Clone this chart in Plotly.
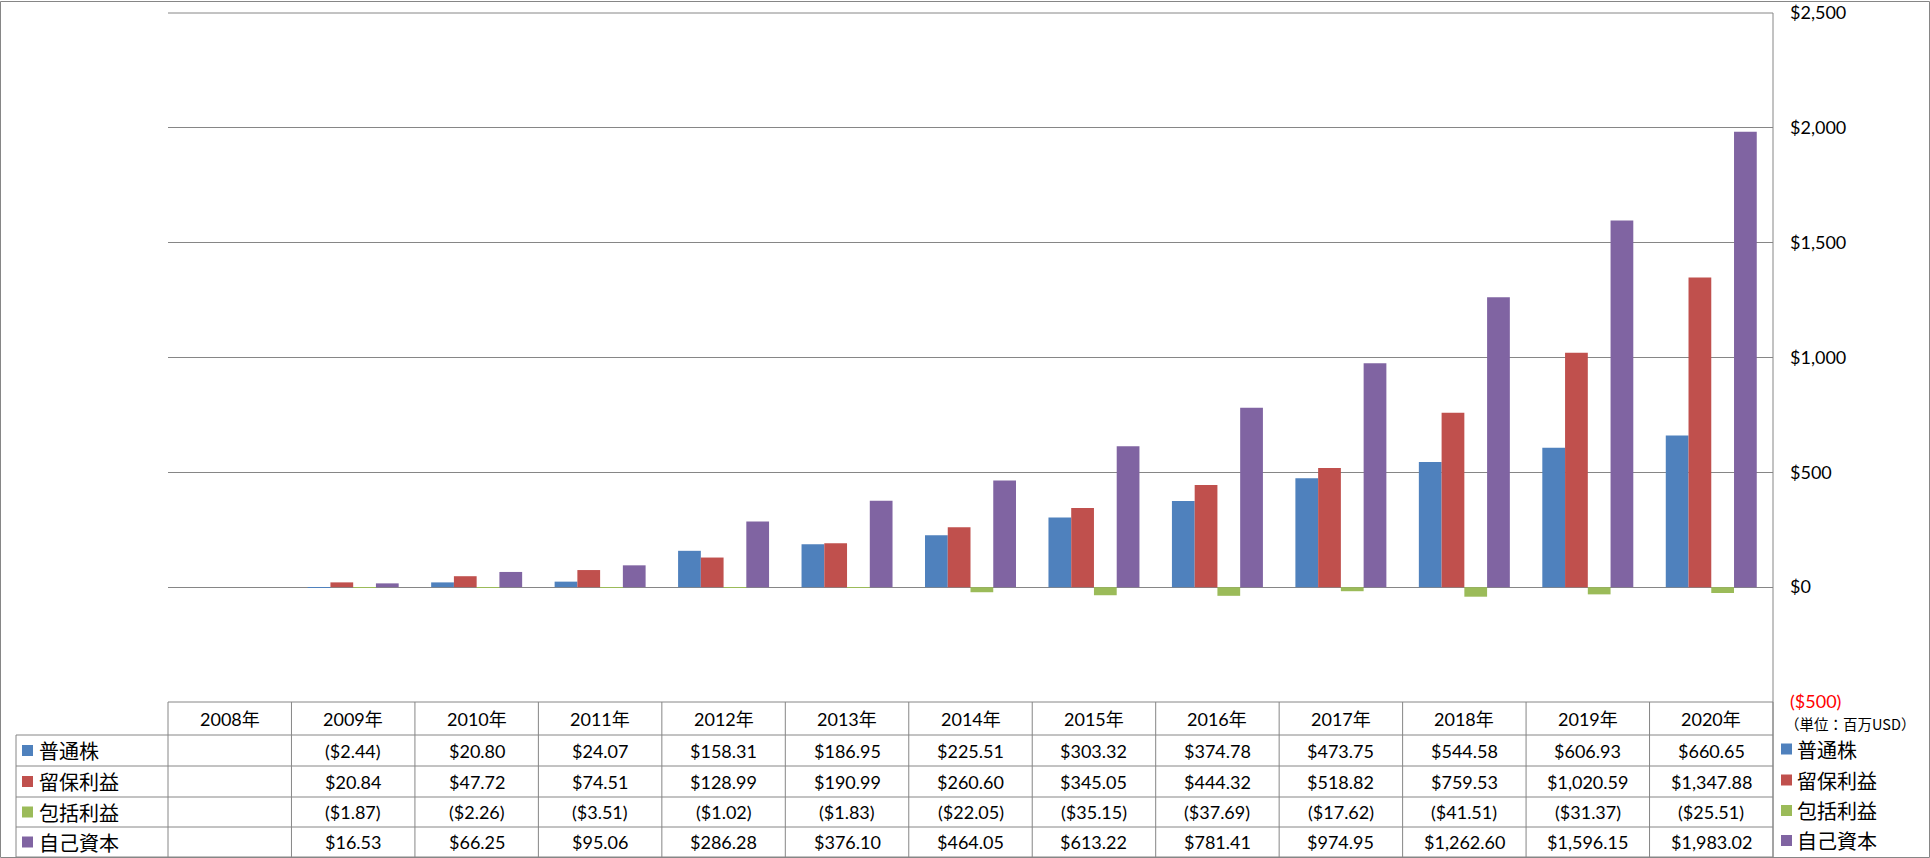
import plotly.graph_objects as go

# ---------------- data ----------------
categories = ["2008年", "2009年", "2010年", "2011年", "2012年", "2013年", "2014年",
              "2015年", "2016年", "2017年", "2018年", "2019年", "2020年"]
common_stock = [None, -2.44, 20.80, 24.07, 158.31, 186.95, 225.51, 303.32, 374.78,
                473.75, 544.58, 606.93, 660.65]
retained_earnings = [None, 20.84, 47.72, 74.51, 128.99, 190.99, 260.60, 345.05, 444.32,
                     518.82, 759.53, 1020.59, 1347.88]
comprehensive_income = [None, -1.87, -2.26, -3.51, -1.02, -1.83, -22.05, -35.15, -37.69,
                        -17.62, -41.51, -31.37, -25.51]
total_equity = [None, 16.53, 66.25, 95.06, 286.28, 376.10, 464.05, 613.22, 781.41,
                974.95, 1262.60, 1596.15, 1983.02]
series_names = ["普通株", "留保利益", "包括利益", "自己資本"]
series_colors = ["#4F81BD", "#C0504D", "#9BBB59", "#8064A2"]
tick_values = [-500, 0, 500, 1000, 1500, 2000, 2500]
tick_labels = ["<span style='color:#FF0000'>($500)</span>", "$0", "$500", "$1,000",
               "$1,500", "$2,000", "$2,500"]
unit_label = "（単位：百万USD）"

series_values = [common_stock, retained_earnings, comprehensive_income, total_equity]

# ---------------- geometry helpers (pixels -> paper) ----------------
W, H = 1930, 858
PL, PR, PT, PB = 168, 1773, 13, 702


def px(X):
    return (X - PL) / (PR - PL)


def py(Y):
    return (PB - Y) / (PB - PT)


GRID = "#868686"
LATIN = "Lato, 'Noto Sans CJK JP', sans-serif"
CJK = "'Noto Sans CJK JP', sans-serif"


def fmt(v):
    if v is None:
        return ""
    s = "${:,.2f}".format(abs(v))
    return "({})".format(s) if v < 0 else s


fig = go.Figure()
for name, vals, col in zip(series_names, series_values, series_colors):
    fig.add_trace(go.Bar(x=categories, y=vals, name=name, marker_color=col,
                         marker_line_width=0, showlegend=False, hoverinfo="skip"))

shapes = []
annotations = []

# outer border
shapes.append(dict(type="rect", xref="paper", yref="paper", x0=px(0.5), x1=px(1929.5),
                   y0=py(1.5), y1=py(857.5), line=dict(color=GRID, width=1)))
# top gridline (range edge) and right axis line
shapes.append(dict(type="line", xref="paper", yref="paper", x0=0, x1=1, y0=1, y1=1,
                   line=dict(color=GRID, width=1)))
shapes.append(dict(type="line", xref="paper", yref="paper", x0=1, x1=1, y0=1, y1=py(857.5),
                   line=dict(color=GRID, width=1)))

# table
row_lines = [702, 735, 766, 797, 827, 857]
for i, Y in enumerate(row_lines):
    x0 = px(168) if i == 0 else px(16)
    shapes.append(dict(type="line", xref="paper", yref="paper", x0=x0, x1=1, y0=py(Y), y1=py(Y),
                       line=dict(color=GRID, width=1)))
n = len(categories)
for k in range(n + 1):
    shapes.append(dict(type="line", xref="paper", yref="paper", x0=k / n, x1=k / n,
                       y0=py(702), y1=py(857), line=dict(color=GRID, width=1)))
shapes.append(dict(type="line", xref="paper", yref="paper", x0=px(16), x1=px(16),
                   y0=py(735), y1=py(857), line=dict(color=GRID, width=1)))

# header labels
for c in categories:
    annotations.append(dict(x=c, xref="x", y=py(718.5), yref="paper", text=c, showarrow=False,
                            xanchor="center", yanchor="middle",
                            font=dict(family=LATIN, size=18, color="#000")))

row_centers = [750.5, 781.5, 812, 842]
for name, vals, col, Yc in zip(series_names, series_values, series_colors, row_centers):
    # row label with colour key
    shapes.append(dict(type="rect", xref="paper", yref="paper", x0=px(22), x1=px(33),
                       y0=py(Yc - 5.5), y1=py(Yc + 5.5), fillcolor=col, line=dict(width=0)))
    annotations.append(dict(x=px(37), xref="paper", y=py(Yc), yref="paper", text=name,
                            showarrow=False, xanchor="left", yanchor="middle",
                            font=dict(family=CJK, size=20, color="#000")))
    for c, v in zip(categories, vals):
        if v is None:
            continue
        annotations.append(dict(x=c, xref="x", y=py(Yc), yref="paper", text=fmt(v),
                                showarrow=False, xanchor="center", yanchor="middle",
                                font=dict(family=LATIN, size=18, color="#000")))
    # right legend
    shapes.append(dict(type="rect", xref="paper", yref="paper", x0=px(1781), x1=px(1792),
                       y0=py(Yc - 1.5 - 5.5), y1=py(Yc - 1.5 + 5.5), fillcolor=col,
                       line=dict(width=0)))
    annotations.append(dict(x=px(1795), xref="paper", y=py(Yc - 1.5), yref="paper", text=name,
                            showarrow=False, xanchor="left", yanchor="middle",
                            font=dict(family=CJK, size=20, color="#000")))

annotations.append(dict(x=px(1783), xref="paper", y=py(723), yref="paper", text=unit_label,
                        showarrow=False, xanchor="left", yanchor="middle",
                        font=dict(family=CJK, size=14.5, color="#000")))

fig.update_layout(
    template="none",
    width=W, height=H,
    margin=dict(l=PL, r=W - PR, t=PT, b=H - PB, pad=0, autoexpand=False),
    paper_bgcolor="white", plot_bgcolor="white",
    barmode="group", bargap=0.263, bargroupgap=0,
    font=dict(family=LATIN, size=17, color="#000"),
    xaxis=dict(type="category", range=[-0.5, n - 0.5], showticklabels=False, showgrid=False,
               showline=False, zeroline=False, ticks="", automargin=False),
    yaxis=dict(side="right", range=[-500, 2500], tickvals=tick_values, ticktext=tick_labels,
               showgrid=True, gridcolor=GRID, gridwidth=1, zeroline=True, zerolinecolor=GRID,
               zerolinewidth=1, showline=False, ticks="", ticklabelstandoff=16, automargin=False,
               tickfont=dict(family=LATIN, size=18, color="#000")),
    shapes=shapes, annotations=annotations,
    showlegend=False,
)

fig.write_html("out.html", config={"displayModeBar": False},
               post_script="document.body.style.margin='0';document.body.style.overflow='hidden';")
